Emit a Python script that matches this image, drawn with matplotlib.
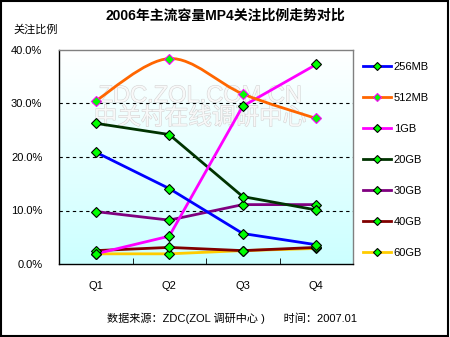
import numpy as np
import matplotlib.pyplot as plt
from matplotlib.path import Path
from matplotlib.patches import PathPatch
from matplotlib.lines import Line2D
import matplotlib.patheffects as pe

plt.rcParams['font.family'] = ['Liberation Sans', 'Noto Sans CJK SC', 'DejaVu Sans']

quarters = ['Q1', 'Q2', 'Q3', 'Q4']
names = ['256MB', '512MB', '1GB', '20GB', '30GB', '40GB', '60GB']
v256mb = [20.9, 14.1, 5.7, 3.6]
v512mb = [30.5, 38.4, 31.8, 27.2]
v1gb = [1.9, 5.2, 29.5, 37.3]
v20gb = [26.3, 24.2, 12.6, 10.1]
v30gb = [9.8, 8.2, 11.1, 11.1]
v40gb = [2.5, 3.1, 2.5, 3.1]
v60gb = [1.9, 1.9, 2.5, 2.9]
values = [v256mb, v512mb, v1gb, v20gb, v30gb, v40gb, v60gb]
colors = ['#0000ff', '#ff6600', '#ff00ff', '#003300', '#800080', '#800000', '#ffcc00']
smooth = [False, True, False, False, False, False, False]
edge = ['black', '#ff00ff', 'black', 'black', 'black', 'black', 'black']

fig = plt.figure(figsize=(4.5, 3.37), dpi=100)
fig.patch.set_facecolor('white')
ax = fig.add_axes([59 / 450, 1 - 264 / 337, 294 / 450, 214 / 337])

# gradient background
grad = np.linspace(0, 1, 256).reshape(-1, 1)
top = np.array([1.0, 1.0, 1.0])
bot = np.array([0.80, 1.0, 1.0])
img = top + (bot - top) * grad[..., None]
ax.imshow(img, extent=[0, 1, 0, 1], transform=ax.transAxes, aspect='auto', zorder=0)

x = np.arange(len(quarters))

# watermark
ax.text(0.48, 0.785, 'ZDC.ZOL.COM.CN', transform=ax.transAxes, ha='center', va='center',
        fontsize=17, color='#f8f8f8', zorder=1,
        path_effects=[pe.withStroke(linewidth=0.8, foreground='#d4d4d4')])
ax.text(0.48, 0.68, '中关村在线调研中心', transform=ax.transAxes, ha='center', va='center',
        fontsize=17, color='#f8f8f8', zorder=1,
        path_effects=[pe.withStroke(linewidth=0.8, foreground='#d4d4d4')])


def smooth_path(xs, ys):
    pts = np.column_stack([xs, ys]).astype(float)
    verts = [pts[0]]
    codes = [Path.MOVETO]
    n = len(pts)
    for i in range(n - 1):
        p0 = pts[i - 1] if i > 0 else pts[i]
        p1 = pts[i]
        p2 = pts[i + 1]
        p3 = pts[i + 2] if i + 2 < n else pts[i + 1]
        c1 = p1 + (p2 - p0) / 6
        c2 = p2 - (p3 - p1) / 6
        verts += [c1, c2, p2]
        codes += [Path.CURVE4] * 3
    return Path(verts, codes)


for i, name in enumerate(names):
    z = 3 + (len(names) - i) * 0.1
    if smooth[i]:
        ax.add_patch(PathPatch(smooth_path(x, values[i]), facecolor='none',
                               edgecolor=colors[i], lw=2, zorder=z))
    else:
        ax.plot(x, values[i], color=colors[i], lw=2, zorder=z)
    ax.plot(x, values[i], ls='none', marker='D', ms=5, mfc='#00ff00',
            mec=edge[i], mew=0.8, zorder=z + 1)

ax.set_xlim(-0.5, 3.5)
ax.set_ylim(0, 40)
ax.set_yticks([0, 10, 20, 30, 40])
ax.set_yticklabels(['0.0%', '10.0%', '20.0%', '30.0%', '40.0%'], fontsize=8)
ax.set_xticks(x)
ax.set_xticklabels(quarters, fontsize=8)
ax.set_xticks([0.5, 1.5, 2.5], minor=True)
ax.tick_params(axis='x', which='major', length=0, pad=12)
ax.tick_params(axis='x', which='minor', direction='in', length=4, color='black')
ax.tick_params(axis='y', length=0, pad=12)
for yv in [10, 20, 30]:
    ax.axhline(yv, color='black', lw=0.8, ls=(0, (3, 3)), zorder=2)

ax.spines['top'].set_color('#808080')
ax.spines['right'].set_color('#808080')
ax.spines['left'].set_color('black')
ax.spines['bottom'].set_color('black')
for s in ax.spines.values():
    s.set_linewidth(1)

handles = []
for i, name in enumerate(names):
    handles.append(Line2D([0], [0], color=colors[i], lw=2, marker='D', ms=4,
                          mfc='#00ff00', mec=edge[i], mew=0.8))
leg = fig.legend(handles, names, loc='upper left', bbox_to_anchor=(357 / 450, 1 - 56 / 337),
                 frameon=False, fontsize=8, handlelength=2.6, labelspacing=1.9,
                 handletextpad=0.2, borderpad=0)

fig.text(225 / 450, 1 - 16 / 337, '2006年主流容量MP4关注比例走势对比', ha='center', va='center',
         fontsize=10, fontweight='bold')
fig.text(13 / 450, 1 - 30 / 337, '关注比例', ha='left', va='center', fontsize=8)
fig.text(232 / 450, 1 - 318 / 337, '数据来源：ZDC(ZOL 调研中心 )      时间：2007.01',
         ha='center', va='center', fontsize=8)

# outer border
fig.patches.append(plt.Rectangle((0.002, 0.003), 0.994, 0.994, transform=fig.transFigure,
                                 fill=False, edgecolor='black', lw=1.5))

fig.savefig('out.png', dpi=100)
